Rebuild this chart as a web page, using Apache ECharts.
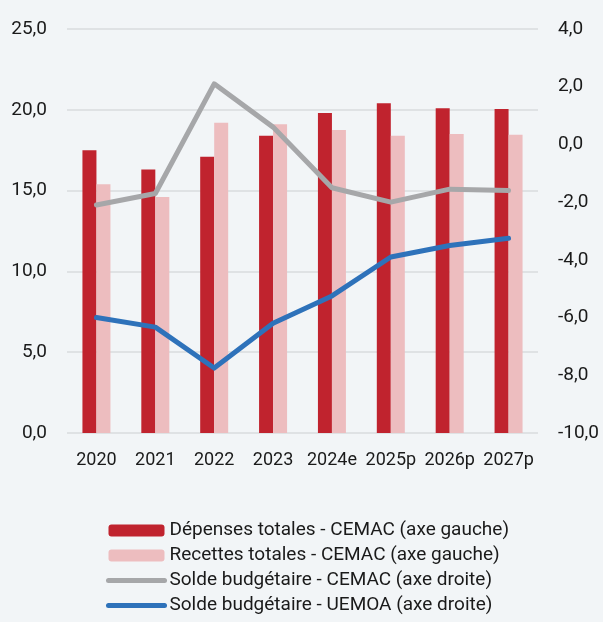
<!DOCTYPE html>
<html lang="fr">
<head>
    <meta charset="UTF-8">
    <title>Soldes budgétaires</title>
    <style>
        html, body { margin: 0; padding: 0; background: #F2F5F7; }
        #main { width: 603px; height: 622px; }
    </style>
</head>
<body>
<div id="main"></div>
<script src="https://cdn.jsdelivr.net/npm/echarts@6/dist/echarts.min.js"></script>
<script>
    var years = ['2020', '2021', '2022', '2023', '2024e', '2025p', '2026p', '2027p'];
    var depensesCemac = [17.5, 16.3, 17.1, 18.4, 19.8, 20.4, 20.1, 20.05];
    var recettesCemac = [15.4, 14.6, 19.2, 19.1, 18.75, 18.4, 18.5, 18.45];
    var soldeCemac = [-2.1, -1.7, 2.1, 0.6, -1.5, -2.0, -1.55, -1.6];
    var soldeUemoa = [-6.0, -6.33, -7.75, -6.2, -5.25, -3.9, -3.5, -3.25];

    var fmt = function (v) {
        return v.toFixed(1).replace('.', ',');
    };

    var myChart = echarts.init(document.getElementById('main'));
    var font = 'Roboto';
    var gris = '#A6A7A9';
    var bleu = '#2E72BA';
    var option = {
        backgroundColor: '#F2F5F7',
        animation: false,
        textStyle: { fontFamily: font },
        grid: { left: 67, right: 65, top: 29, bottom: 189 },
        legend: {
            orient: 'vertical',
            left: 101,
            top: 516,
            itemWidth: 56,
            itemHeight: 12,
            itemGap: 6,
            textStyle: { fontSize: 19, color: '#1a1a1a', lineHeight: 18 },
            data: [
                'Dépenses totales - CEMAC (axe gauche)',
                'Recettes totales - CEMAC (axe gauche)',
                {
                    name: 'Solde budgétaire - CEMAC (axe droite)',
                    itemStyle: { opacity: 0 },
                    lineStyle: { width: 5, cap: 'round', color: gris }
                },
                {
                    name: 'Solde budgétaire - UEMOA (axe droite)',
                    itemStyle: { opacity: 0 },
                    lineStyle: { width: 5, cap: 'round', color: bleu }
                }
            ]
        },
        xAxis: {
            type: 'category',
            data: years,
            axisLine: { show: false },
            axisTick: { show: false },
            axisLabel: { fontSize: 18, color: '#1a1a1a', margin: 18, interval: 0 }
        },
        yAxis: [{
            type: 'value',
            min: 0,
            max: 25,
            interval: 5,
            axisLabel: { fontSize: 19, color: '#1a1a1a', margin: 20, formatter: fmt },
            splitLine: { lineStyle: { color: '#D9DBDE', width: 1.5 } }
        }, {
            type: 'value',
            min: -10,
            max: 4,
            interval: 2,
            axisLabel: { fontSize: 19, color: '#1a1a1a', margin: 20, formatter: fmt },
            splitLine: { show: false }
        }],
        series: [{
            name: 'Dépenses totales - CEMAC (axe gauche)',
            type: 'bar',
            data: depensesCemac,
            barWidth: 14,
            barGap: '0%',
            itemStyle: { color: '#C0232E' }
        }, {
            name: 'Recettes totales - CEMAC (axe gauche)',
            type: 'bar',
            data: recettesCemac,
            barWidth: 14,
            itemStyle: { color: '#EDBDBF' }
        }, {
            name: 'Solde budgétaire - CEMAC (axe droite)',
            type: 'line',
            yAxisIndex: 1,
            data: soldeCemac,
            symbol: 'none',
            lineStyle: { color: gris, width: 5, cap: 'round', join: 'round' },
            itemStyle: { color: gris }
        }, {
            name: 'Solde budgétaire - UEMOA (axe droite)',
            type: 'line',
            yAxisIndex: 1,
            data: soldeUemoa,
            symbol: 'none',
            lineStyle: { color: bleu, width: 5, cap: 'round', join: 'round' },
            itemStyle: { color: bleu }
        }]
    };
    myChart.setOption(option);
</script>
</body>
</html>
